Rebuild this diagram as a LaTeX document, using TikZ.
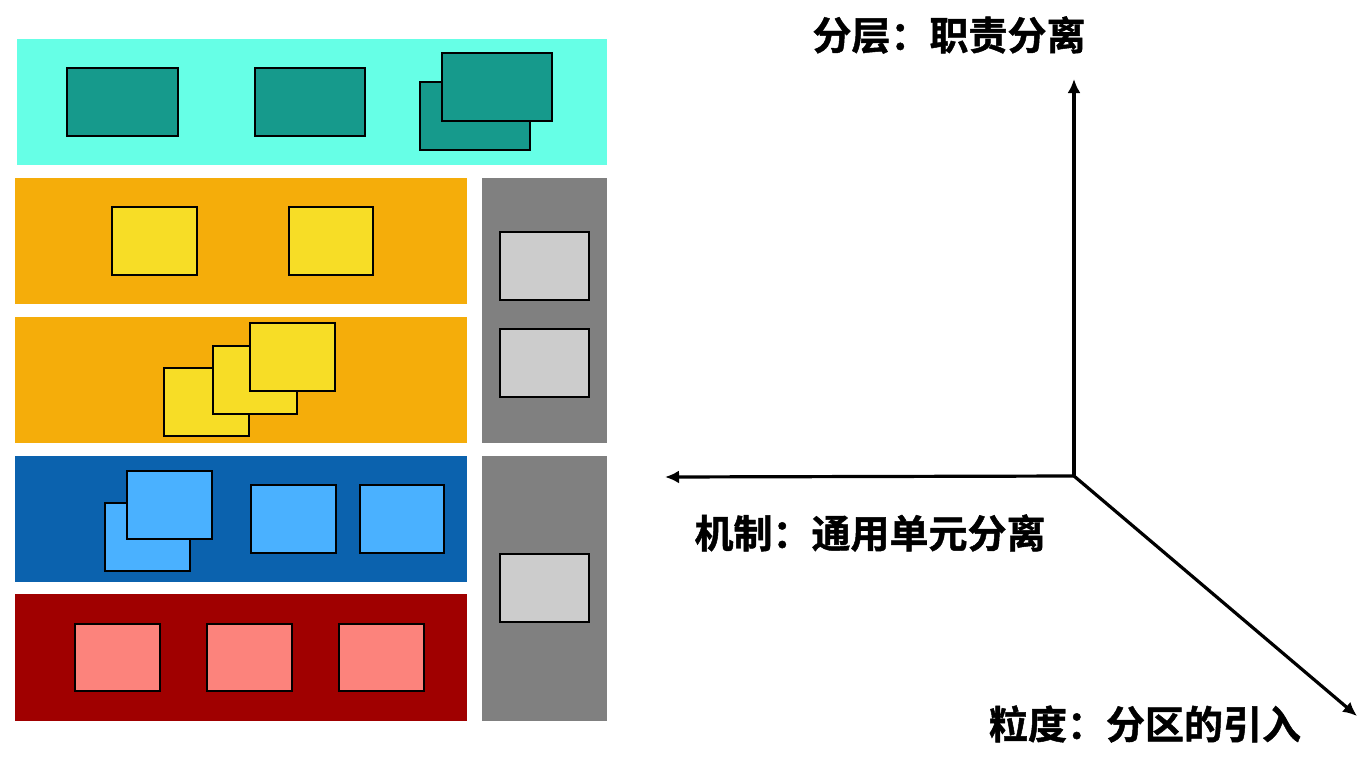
\documentclass[tikz,border=0pt]{standalone}
\usepackage{fontspec}
\newfontfamily\cjk{Noto Sans CJK SC}[BoldFont={Noto Sans CJK SC Bold},BoldFeatures={FakeBold=1.2}]
\usetikzlibrary{arrows.meta}
\definecolor{cyanband}{HTML}{66FFE6}
\definecolor{teal}{HTML}{169A8C}
\definecolor{orangeband}{HTML}{F5AD0A}
\definecolor{yellowbox}{HTML}{F7DD26}
\definecolor{grayband}{HTML}{808080}
\definecolor{lightgraybox}{HTML}{CCCCCC}
\definecolor{blueband}{HTML}{0B62AE}
\definecolor{lightbluebox}{HTML}{4AB1FF}
\definecolor{redband}{HTML}{A00000}
\definecolor{pinkbox}{HTML}{FC837C}
\tikzset{
  band/.style={draw=none, inner sep=0pt, outer sep=0pt, anchor=north west},
  box/.style={draw=black, line width=1.2pt, inner sep=0pt, outer sep=0pt, anchor=north west},
  axis/.style={line width=3.2pt, -{Latex[length=14pt,width=13pt]}},
  lbl/.style={font=\cjk\bfseries\fontsize{39}{41}\selectfont, inner sep=0pt}
}
\newcommand{\bandat}[6]{\node[band, fill=#2, minimum width=#5pt, minimum height=#6pt] (#1) at (#3,#4) {};}
\newcommand{\boxat}[6]{\node[box, fill=#2, minimum width=#5pt, minimum height=#6pt] (#1) at (#3,#4) {};}
\begin{document}
\begin{tikzpicture}[x=1pt,y=-1pt]
\useasboundingbox (0,0) rectangle (1362,766);
% bands
\bandat{b1}{cyanband}{17}{39}{590}{126}
\bandat{b2}{orangeband}{15}{178}{452}{126}
\bandat{b3}{orangeband}{15}{317}{452}{126}
\bandat{g1}{grayband}{482}{178}{125}{265}
\bandat{b4}{blueband}{15}{456}{452}{126}
\bandat{g2}{grayband}{482}{456}{125}{265}
\bandat{b5}{redband}{15}{594}{452}{127}
% teal boxes
\boxat{t1}{teal}{67}{68}{111}{68}
\boxat{t2}{teal}{255}{68}{110}{68}
\boxat{t3}{teal}{420}{82}{110}{68}
\boxat{t4}{teal}{442}{53}{110}{68}
% yellow boxes
\boxat{y1}{yellowbox}{112}{207}{85}{68}
\boxat{y2}{yellowbox}{289}{207}{84}{68}
\boxat{y3}{yellowbox}{164}{368}{85}{68}
\boxat{y4}{yellowbox}{213}{346}{84}{68}
\boxat{y5}{yellowbox}{250}{323}{85}{68}
% light gray boxes
\boxat{l1}{lightgraybox}{500}{232}{89}{68}
\boxat{l2}{lightgraybox}{500}{329}{89}{68}
\boxat{l3}{lightgraybox}{500}{554}{89}{68}
% blue boxes
\boxat{u1}{lightbluebox}{105}{503}{85}{68}
\boxat{u2}{lightbluebox}{127}{471}{85}{68}
\boxat{u3}{lightbluebox}{251}{485}{85}{68}
\boxat{u4}{lightbluebox}{360}{485}{84}{68}
% red boxes
\boxat{r1}{pinkbox}{75}{624}{85}{67}
\boxat{r2}{pinkbox}{207}{624}{85}{67}
\boxat{r3}{pinkbox}{339}{624}{85}{67}
% axes
\coordinate (o) at (1074,476);
\coordinate (up) at (1074,79);
\coordinate (lf) at (665,477);
\coordinate (dg) at (1357,716);
\draw[axis] (o) -- (up);
\draw[axis] (o) -- (lf);
\draw[axis] (o) -- (dg);
% labels
\node[lbl] (la) at (949,35) {分层：职责分离};
\node[lbl] (lb) at (870,533) {机制：通用单元分离};
\node[lbl] (lc) at (1145,724) {粒度：分区的引入};
\end{tikzpicture}
\end{document}
